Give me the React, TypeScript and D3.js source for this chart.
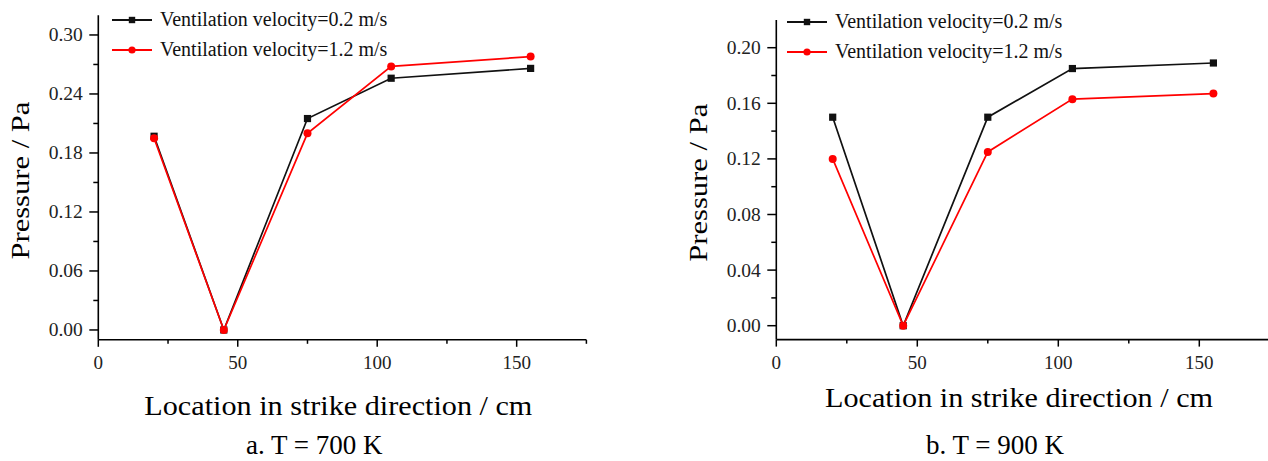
import React from "react";
import * as d3 from "d3";

// Measurement locations along the strike direction (cm)
const locations = [20, 45, 75, 105, 155];

// Pressure (Pa) at T = 700 K
const p700Low = [0.197, 0, 0.215, 0.256, 0.266]; // ventilation 0.2 m/s
const p700High = [0.195, 0, 0.2, 0.268, 0.278]; // ventilation 1.2 m/s

// Pressure (Pa) at T = 900 K
const p900Low = [0.15, 0, 0.15, 0.185, 0.189];
const p900High = [0.12, 0, 0.125, 0.163, 0.167];

const seriesNames = ["Ventilation velocity=0.2 m/s", "Ventilation velocity=1.2 m/s"];
const panelTitles = ["a. T = 700 K", "b. T = 900 K"];
const xLabel = "Location in strike direction / cm";
const yLabel = "Pressure / Pa";

const xTicks = [0, 50, 100, 150];
const xMinorTicks = [25, 75, 125, 175];
const yTicks700 = [0, 0.06, 0.12, 0.18, 0.24, 0.3];
const yMinor700 = [0.03, 0.09, 0.15, 0.21, 0.27];
const yTicks900 = [0, 0.04, 0.08, 0.12, 0.16, 0.2];
const yMinor900 = [0.02, 0.06, 0.1, 0.14, 0.18];

const SERIF = "'Liberation Serif', 'Times New Roman', serif";
const BLACK = "#111";
const RED = "#ff0000";

type PanelProps = {
  low: number[];
  high: number[];
  yDomain: [number, number];
  yTicks: number[];
  yMinor: number[];
  title: string;
  x0: number;
  x1: number;
  yTop: number;
  yBottom: number;
  legendX: number;
  legendY: number;
  yLabelX: number;
  xLabelY: number;
  titleY: number;
};

function Panel(p: PanelProps) {
  const x = d3.scaleLinear().domain([0, 175]).range([p.x0, p.x1]);
  const y = d3.scaleLinear().domain(p.yDomain).range([p.yBottom, p.yTop]);
  const axisY = p.yBottom;
  const line = d3
    .line<number>()
    .x((_, i) => x(locations[i]))
    .y((v) => y(v));
  const cx = (p.x0 + p.x1) / 2;
  const midX = x(87.5);
  const yMid = (p.yTop + p.yBottom) / 2;

  return (
    <g>
      {/* axes */}
      <line x1={p.x0} x2={p.x1} y1={axisY} y2={axisY} stroke="#000" strokeWidth={1.6} />
      <line x1={p.x0} x2={p.x0} y1={p.yTop} y2={axisY} stroke="#000" strokeWidth={1.6} />

      {xTicks.map((t) => (
        <g key={"xt" + t}>
          <line x1={x(t)} x2={x(t)} y1={axisY} y2={axisY + 7} stroke="#000" strokeWidth={1.5} />
          <text x={x(t)} y={369} textAnchor="middle" fontFamily={SERIF} fontSize={19} fill="#222">
            {t}
          </text>
        </g>
      ))}
      {xMinorTicks.map((t) => (
        <line key={"xm" + t} x1={x(t)} x2={x(t)} y1={axisY} y2={axisY + 4} stroke="#000" strokeWidth={1.5} />
      ))}

      {p.yTicks.map((t) => (
        <g key={"yt" + t}>
          <line x1={p.x0 - 9} x2={p.x0} y1={y(t)} y2={y(t)} stroke="#000" strokeWidth={1.5} />
          <text
            x={p.x0 - 15.5}
            y={y(t) + 6.5}
            textAnchor="end"
            fontFamily={SERIF}
            fontSize={19.5}
            fill="#222"
          >
            {d3.format(".2f")(t)}
          </text>
        </g>
      ))}
      {p.yMinor.map((t) => (
        <line key={"ym" + t} x1={p.x0 - 5} x2={p.x0} y1={y(t)} y2={y(t)} stroke="#000" strokeWidth={1.5} />
      ))}

      {/* series */}
      <path d={line(p.low) ?? ""} fill="none" stroke={BLACK} strokeWidth={1.7} />
      {p.low.map((v, i) => (
        <rect key={"bl" + i} x={x(locations[i]) - 3.6} y={y(v) - 3.6} width={7.2} height={7.2} fill={BLACK} />
      ))}
      <path d={line(p.high) ?? ""} fill="none" stroke={RED} strokeWidth={1.7} />
      {p.high.map((v, i) => (
        <circle key={"rd" + i} cx={x(locations[i])} cy={y(v)} r={4} fill={RED} />
      ))}

      {/* legend */}
      <line x1={p.legendX} x2={p.legendX + 40} y1={p.legendY} y2={p.legendY} stroke={BLACK} strokeWidth={2} />
      <rect x={p.legendX + 20 - 3.2} y={p.legendY - 3.2} width={6.4} height={6.4} fill={BLACK} />
      <text x={p.legendX + 48} y={p.legendY + 6} fontFamily={SERIF} fontSize={20} fill="#111">
        {seriesNames[0]}
      </text>
      <line x1={p.legendX} x2={p.legendX + 40} y1={p.legendY + 30} y2={p.legendY + 30} stroke={RED} strokeWidth={2} />
      <circle cx={p.legendX + 20} cy={p.legendY + 30} r={3.6} fill={RED} />
      <text x={p.legendX + 48} y={p.legendY + 36} fontFamily={SERIF} fontSize={20} fill="#111">
        {seriesNames[1]}
      </text>

      {/* axis titles */}
      <text
        transform={`translate(${p.yLabelX},${yMid + 3}) rotate(-90)`}
        textAnchor="middle"
        fontFamily={SERIF}
        fontSize={25}
        textLength={158}
        lengthAdjust="spacingAndGlyphs"
        fill="#000"
      >
        {yLabel}
      </text>
      <text
        x={midX - 4}
        y={p.xLabelY}
        textAnchor="middle"
        fontFamily={SERIF}
        fontSize={27.5}
        textLength={388}
        lengthAdjust="spacingAndGlyphs"
        fill="#000"
      >
        {xLabel}
      </text>
      <text x={cx - 28} y={p.titleY} textAnchor="middle" fontFamily={SERIF} fontSize={27} fill="#000">
        {p.title}
      </text>
    </g>
  );
}

export default function App() {
  return (
    <svg
      width={1268}
      height={461}
      style={{ position: "absolute", left: 0, top: 0, background: "#fff" }}
    >
      <rect width={1268} height={461} fill="#fff" />
      <Panel
        low={p700Low}
        high={p700High}
        yDomain={[-0.01, 0.32]}
        yTicks={yTicks700}
        yMinor={yMinor700}
        title={panelTitles[0]}
        x0={98.3}
        x1={586.4}
        yTop={15.3}
        yBottom={339.8}
        legendX={112}
        legendY={20}
        yLabelX={29}
        xLabelY={415}
        titleY={454}
      />
      <Panel
        low={p900Low}
        high={p900High}
        yDomain={[-0.01, 0.22]}
        yTicks={yTicks900}
        yMinor={yMinor900}
        title={panelTitles[1]}
        x0={776.3}
        x1={1269.8}
        yTop={19.9}
        yBottom={339.6}
        legendX={787}
        legendY={22}
        yLabelX={707}
        xLabelY={407}
        titleY={454}
      />
    </svg>
  );
}
